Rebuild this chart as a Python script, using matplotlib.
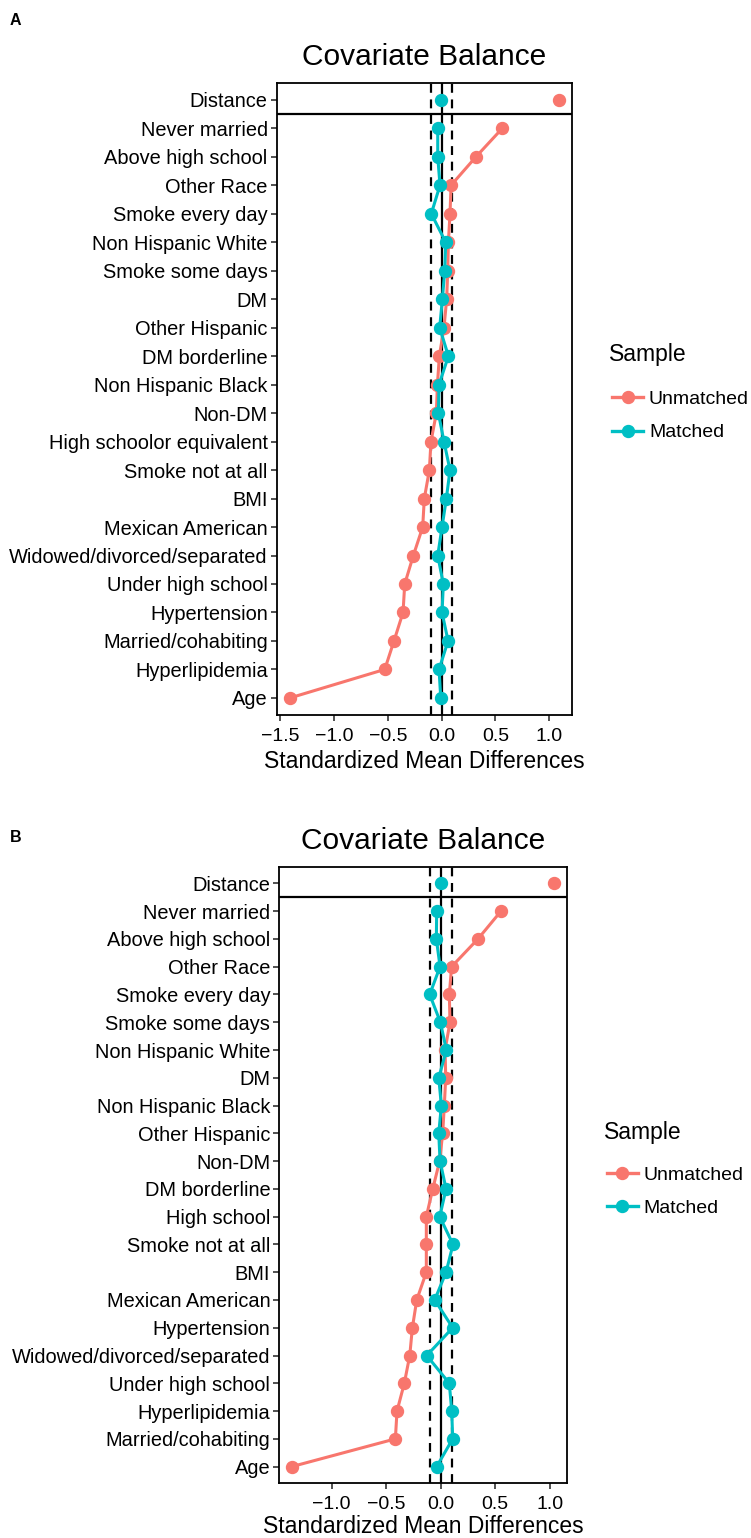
import matplotlib.pyplot as plt
from matplotlib.lines import Line2D

plt.rcParams['font.family'] = ['Liberation Sans', 'DejaVu Sans']

RED = '#F8766D'
CYAN = '#00BFC4'

# panel A
covs_a = ["Distance", "Never married", "Above high school", "Other Race", "Smoke every day",
          "Non Hispanic White", "Smoke some days", "DM", "Other Hispanic", "DM borderline",
          "Non Hispanic Black", "Non-DM", "High schoolor equivalent", "Smoke not at all", "BMI",
          "Mexican American", "Widowed/divorced/separated", "Under high school", "Hypertension",
          "Married/cohabiting", "Hyperlipidemia", "Age"]
unmatched_a = [1.088, 0.564, 0.319, 0.087, 0.077, 0.062, 0.056, 0.046, 0.021, -0.022,
               -0.040, -0.050, -0.100, -0.115, -0.162, -0.177, -0.264, -0.344, -0.360,
               -0.444, -0.530, -1.411]
matched_a = [-0.006, -0.037, -0.037, -0.016, -0.097, 0.037, 0.028, 0.006, -0.019, 0.062,
             -0.025, -0.031, 0.021, 0.077, 0.043, 0.003, -0.037, 0.015, 0.003,
             0.059, -0.025, -0.009]

# panel B
covs_b = ["Distance", "Never married", "Above high school", "Other Race", "Smoke every day",
          "Smoke some days", "Non Hispanic White", "DM", "Non Hispanic Black", "Other Hispanic",
          "Non-DM", "DM borderline", "High school", "Smoke not at all", "BMI",
          "Mexican American", "Hypertension", "Widowed/divorced/separated", "Under high school",
          "Hyperlipidemia", "Married/cohabiting", "Age"]
unmatched_b = [1.040, 0.553, 0.342, 0.100, 0.079, 0.085, 0.040, 0.046, 0.033, 0.018,
               -0.010, -0.073, -0.132, -0.132, -0.132, -0.220, -0.260, -0.284, -0.334,
               -0.401, -0.416, -1.367]
matched_b = [0.000, -0.037, -0.040, -0.006, -0.101, -0.003, 0.052, -0.018, 0.006, -0.018,
             -0.006, 0.049, -0.009, 0.113, 0.049, -0.055, 0.110, -0.128, 0.079,
             0.101, 0.110, -0.037]

W, H = 751, 1538
fig = plt.figure(figsize=(W / 100, H / 100), dpi=100)


def px_axes(left, top, right, bottom):
    return fig.add_axes([left / W, 1 - bottom / H, (right - left) / W, (bottom - top) / H])


def draw_panel(ax, covs, unm, mat, xlim, xticks, labelpad):
    n = len(covs)
    ys = list(range(n))
    ax.axvline(0, color='black', lw=1.6, zorder=1)
    for v in (-0.1, 0.1):
        ax.axvline(v, color='black', lw=1.6, ls=(0, (4, 3)), zorder=1)
    ax.axhline(0.5, color='black', lw=1.6, zorder=1)
    # distance row: points only
    ax.plot(unm[0], 0, 'o', color=RED, ms=8.6, zorder=3)
    ax.plot(mat[0], 0, 'o', color=CYAN, ms=8.6, zorder=4)
    l1, = ax.plot(unm[1:], ys[1:], '-o', color=RED, lw=2.2, ms=8.6, zorder=3)
    l2, = ax.plot(mat[1:], ys[1:], '-o', color=CYAN, lw=2.2, ms=8.6, zorder=4)
    ax.set_yticks(ys)
    ax.set_yticklabels(covs, fontsize=14.4)
    ax.set_ylim(n - 1 + 0.6, -0.6)
    ax.set_xlim(*xlim)
    ax.set_xticks(xticks)
    ax.set_xticklabels([f"{t:.1f}".replace('-', '\u2212') for t in xticks], fontsize=14)
    ax.tick_params(axis='both', length=4, width=1.2, color='#333333', pad=2.5)
    ax.tick_params(axis='x', pad=5)
    for s in ax.spines.values():
        s.set_linewidth(1.3)
    ax.set_xlabel("Standardized Mean Differences", fontsize=16.5, labelpad=labelpad)
    ax.set_title("Covariate Balance", fontsize=21.5, pad=13)
    return l1, l2


ax_a = px_axes(276.7, 82.7, 571.7, 715)
la = draw_panel(ax_a, covs_a, unmatched_a, matched_a, (-1.535, 1.209),
                [-1.5, -1.0, -0.5, 0.0, 0.5, 1.0], 4)
ax_b = px_axes(279.3, 866.7, 566.7, 1483.3)
lb = draw_panel(ax_b, covs_b, unmatched_b, matched_b, (-1.481, 1.156),
                [-1.0, -0.5, 0.0, 0.5, 1.0], 1.5)

fig.text(10 / W, 1 - 20.5 / H, "A", fontsize=11.5, fontweight='bold', va='center')
fig.text(10 / W, 1 - 837.5 / H, "B", fontsize=11.5, fontweight='bold', va='center')

# legends: (lines, title left, title y, handle left, entries centre y)
for lines, tx, ty, hx, cy in ((la, 609, 355, 612, 416), (lb, 604, 1133, 606.7, 1191.5)):
    fig.text(tx / W, 1 - ty / H, "Sample", fontsize=16.5, va='center', ha='left')
    handles = [Line2D([], [], color=l.get_color(), lw=2.4, marker='o', ms=8.6) for l in lines]
    fig.legend(handles, ["Unmatched", "Matched"], loc='center left',
               bbox_to_anchor=(hx / W, 1 - cy / H), frameon=False, fontsize=14,
               handlelength=1.6, handletextpad=0.3, labelspacing=0.8, borderpad=0,
               borderaxespad=0)

fig.savefig("out.png", dpi=100)
